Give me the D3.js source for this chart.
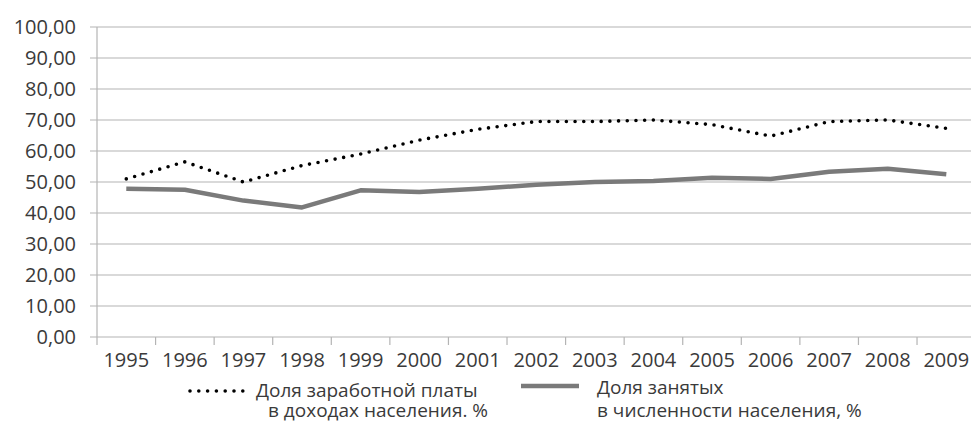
<!DOCTYPE html>
<html lang="ru">
<head>
    <meta charset="UTF-8">
    <title>Доля заработной платы и доля занятых</title>
    <script src="https://d3js.org/d3.v7.min.js"></script>
    <style>
        body { margin: 0; background: #fff; }
        svg { display: block; }
        .tick-label { font-family: "Open Sans", sans-serif; font-size: 20px; fill: #3a3a3a; }
        .legend-text { font-family: "Open Sans", sans-serif; font-size: 19px; fill: #3a3a3a; }
        .grid line { stroke: #b4b4b4; stroke-width: 1.2; }
    </style>
</head>
<body>
<script>
    // Data
    const years = ["1995", "1996", "1997", "1998", "1999", "2000", "2001", "2002",
                   "2003", "2004", "2005", "2006", "2007", "2008", "2009"];
    const wageShare = [51.0, 56.5, 50.0, 55.3, 59.0, 63.5, 67.0, 69.5,
                       69.5, 70.0, 68.5, 64.8, 69.5, 70.0, 67.3];
    const employedShare = [47.8, 47.5, 44.0, 41.8, 47.3, 46.8, 47.8, 49.1,
                           50.0, 50.3, 51.4, 51.0, 53.3, 54.3, 52.5];
    const yTicks = [0, 10, 20, 30, 40, 50, 60, 70, 80, 90, 100];
    const legendWage = ["Доля заработной платы", "в доходах населения. %"];
    const legendEmployed = ["Доля занятых", "в численности населения, %"];

    const W = 971, H = 423;
    const svg = d3.select("body").append("svg")
        .attr("width", W)
        .attr("height", H);

    // Scales
    const x = d3.scaleBand()
        .domain(years)
        .range([97, 975.6]);
    const y = d3.scaleLinear()
        .domain([0, 100])
        .range([337, 27]);
    const cx = d => x(d) + x.bandwidth() / 2;

    // Gridlines
    svg.append("g")
        .attr("class", "grid")
        .selectAll("line")
        .data(yTicks)
        .join("line")
        .attr("x1", 90)
        .attr("x2", W)
        .attr("y1", d => y(d))
        .attr("y2", d => y(d));

    // Y axis line + labels
    svg.append("line")
        .attr("x1", 97).attr("x2", 97)
        .attr("y1", y(100)).attr("y2", y(0))
        .attr("stroke", "#b4b4b4").attr("stroke-width", 1.2);

    svg.append("g")
        .selectAll("text")
        .data(yTicks)
        .join("text")
        .attr("class", "tick-label")
        .attr("x", 76)
        .attr("y", d => y(d))
        .attr("dy", "0.35em")
        .attr("text-anchor", "end")
        .text(d => d3.format(".2f")(d).replace(".", ","));

    // X axis: tick marks at band edges, labels centred
    const edges = years.map(d => x(d)).concat([x.range()[1]]);
    svg.append("g")
        .selectAll("line")
        .data(edges)
        .join("line")
        .attr("x1", d => d).attr("x2", d => d)
        .attr("y1", y(0)).attr("y2", y(0) + 8)
        .attr("stroke", "#b4b4b4").attr("stroke-width", 1.2);

    svg.append("g")
        .selectAll("text")
        .data(years)
        .join("text")
        .attr("class", "tick-label")
        .attr("x", d => cx(d))
        .attr("y", 367)
        .attr("text-anchor", "middle")
        .text(d => d);

    // Lines
    const line = d3.line()
        .x((d, i) => cx(years[i]))
        .y(d => y(d));

    svg.append("path")
        .datum(employedShare)
        .attr("d", line)
        .attr("fill", "none")
        .attr("stroke", "#7a7a7a")
        .attr("stroke-width", 4.5)
        .attr("stroke-linejoin", "round");

    svg.append("path")
        .datum(wageShare)
        .attr("d", line)
        .attr("fill", "none")
        .attr("stroke", "#000")
        .attr("stroke-width", 3.6)
        .attr("stroke-linecap", "round")
        .attr("stroke-dasharray", "0 8.7");

    // Legend
    const lg = svg.append("g");
    lg.append("line")
        .attr("x1", 190).attr("x2", 243)
        .attr("y1", 391).attr("y2", 391)
        .attr("stroke", "#000")
        .attr("stroke-width", 3.6)
        .attr("stroke-linecap", "round")
        .attr("stroke-dasharray", "0 8.8");

    lg.append("text")
        .attr("class", "legend-text")
        .attr("x", 256).attr("y", 397)
        .text(legendWage[0]);
    lg.append("text")
        .attr("class", "legend-text")
        .attr("x", 268).attr("y", 417)
        .text(legendWage[1]);

    lg.append("line")
        .attr("x1", 521).attr("x2", 579)
        .attr("y1", 386).attr("y2", 386)
        .attr("stroke", "#7a7a7a")
        .attr("stroke-width", 4.5);

    lg.append("text")
        .attr("class", "legend-text")
        .attr("x", 597).attr("y", 394)
        .text(legendEmployed[0]);
    lg.append("text")
        .attr("class", "legend-text")
        .attr("x", 597).attr("y", 417)
        .text(legendEmployed[1]);
</script>
</body>
</html>
